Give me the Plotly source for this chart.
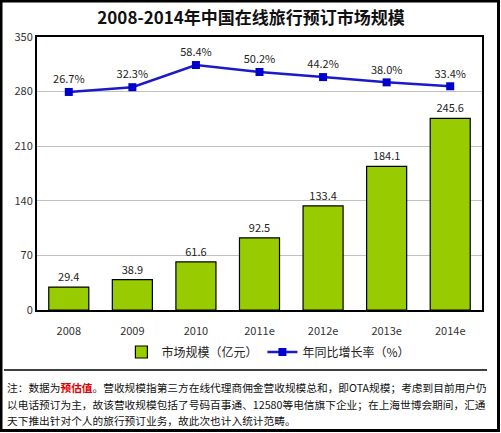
import plotly.graph_objects as go

# Data
years = ["2008", "2009", "2010", "2011e", "2012e", "2013e", "2014e"]
market_size = [29.4, 38.9, 61.6, 92.5, 133.4, 184.1, 245.6]
growth_rate = [26.7, 32.3, 58.4, 50.2, 44.2, 38.0, 33.4]

note_lines = [
    "注：数据为<b><span style='color:#e00000'>预估值</span></b>。营收规模指第三方在线代理商佣金营收规模总和，即OTA规模；考虑到目前用户仍",
    "以电话预订为主，故该营收规模包括了号码百事通、12580等电信旗下企业；在上海世博会期间，汇通",
    "天下推出针对个人的旅行预订业务，故此次也计入统计范畴。",
]

font_cn = "Noto Sans CJK SC"

# plot box in pixels: x 37..482, y 37..310
L, R, T, B = 37, 19, 37, 123
W, H = 501, 433
pw, ph = W - L - R, H - T - B


def px_x(x):
    return (x - L) / pw


def px_y(y):
    return (H - B - y) / ph


fig = go.Figure()

fig.add_trace(go.Bar(
    x=years, y=market_size,
    name="市场规模（亿元）",
    marker=dict(color="#99CC00", line=dict(color="#000000", width=1.2)),
    text=[f"{v:.1f}" for v in market_size],
    textposition="outside",
    textfont=dict(size=11, color="#222222"),
    cliponaxis=False,
))

fig.add_trace(go.Scatter(
    x=years, y=growth_rate,
    name="年同比增长率（%）",
    yaxis="y2",
    mode="lines+markers+text",
    line=dict(color="#1a1ac8", width=2.5),
    marker=dict(symbol="square", size=8, color="#0000cc"),
    text=[f"{v:.1f}%" for v in growth_rate],
    textposition="top center",
    textfont=dict(size=11, color="#222222"),
    cliponaxis=False,
))

fig.update_layout(
    width=W, height=H,
    margin=dict(l=L, r=R, t=T, b=B),
    paper_bgcolor="white",
    plot_bgcolor="white",
    font=dict(family=font_cn, size=11, color="#222222"),
    bargap=0.37,
    showlegend=True,
    legend=dict(
        orientation="h",
        x=0.52, xanchor="center",
        y=px_y(352), yanchor="middle",
        font=dict(size=12, color="#222222"),
        itemwidth=30,
        tracegroupgap=0,
    ),
    title=dict(
        text="<b>2008-2014年中国在线旅行预订市场规模</b>",
        x=px_x(260), xanchor="center",
        y=1 - 18 / H, yanchor="middle",
        font=dict(size=17, color="#111111"),
    ),
    xaxis=dict(
        showgrid=False,
        showline=True, linecolor="#000000", linewidth=2,
        mirror=True,
        ticks="",
        ticklabelstandoff=10,
        tickfont=dict(size=11, color="#333333"),
    ),
    yaxis=dict(
        range=[0, 350], dtick=70,
        showgrid=True, gridcolor="#c0c0c0", gridwidth=1,
        showline=True, linecolor="#000000", linewidth=2,
        mirror=True,
        zeroline=False,
        ticks="",
        tickfont=dict(size=11, color="#333333"),
    ),
    yaxis2=dict(
        overlaying="y",
        range=[-230, 91.4],
        visible=False,
    ),
)

# note separator line and outer frame
fig.add_shape(type="line", xref="paper", yref="paper",
              x0=px_x(4), x1=px_x(487), y0=px_y(370), y1=px_y(370),
              line=dict(color="#000000", width=1.5))
fig.add_shape(type="rect", xref="paper", yref="paper",
              x0=px_x(1), x1=px_x(498.5), y0=px_y(1), y1=px_y(430.5),
              line=dict(color="#000000", width=3))

# footnote, one annotation per line (16px line pitch)
for i, line in enumerate(note_lines):
    fig.add_annotation(
        text=line, xref="paper", yref="paper",
        x=px_x(5), y=px_y(388 + 16 * i), xanchor="left", yanchor="middle",
        align="left", showarrow=False,
        font=dict(size=10.7, color="#111111", family=font_cn),
    )

fig.write_html("out.html",
               config={"displayModeBar": False},
               post_script="document.body.style.margin='0';document.body.style.overflow='hidden';")
